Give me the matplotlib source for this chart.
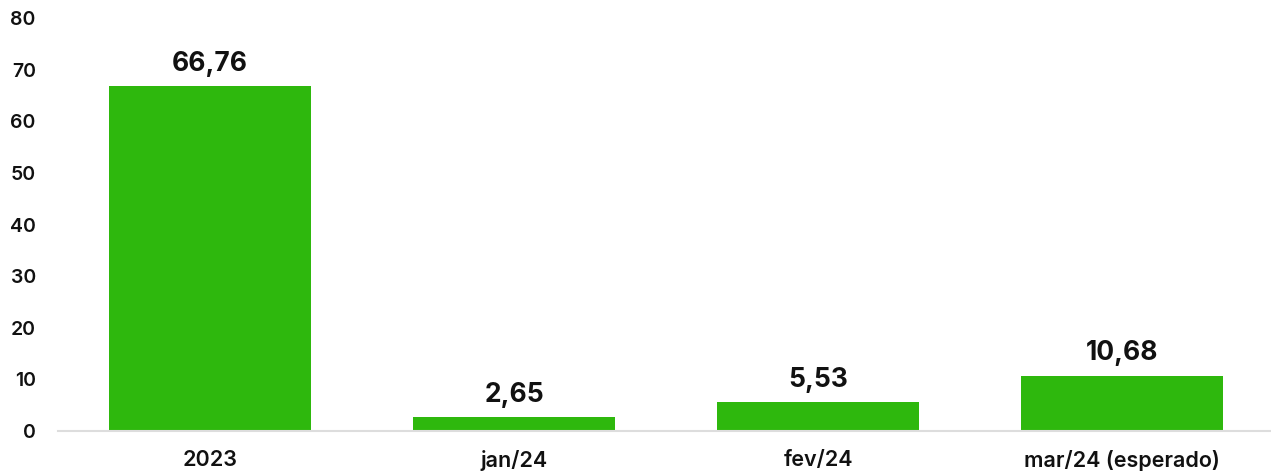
import matplotlib.pyplot as plt

categories = ["2023", "jan/24", "fev/24", "mar/24 (esperado)"]
values = [66.76, 2.65, 5.53, 10.68]
value_labels = ["66,76", "2,65", "5,53", "10,68"]
yticks = [0, 10, 20, 30, 40, 50, 60, 70, 80]

plt.rcParams['font.family'] = ['Inter', 'DejaVu Sans']

fig = plt.figure(figsize=(12.71, 4.73), dpi=100)
ax = fig.add_axes([58 / 1271, 1 - 431 / 473, 1 - 58 / 1271, (431 - 18) / 473])

x = range(len(categories))
ax.bar(x, values, width=0.667, color='#2EB80D', zorder=2)

for xi, v, lab in zip(x, values, value_labels):
    ax.annotate(lab, (xi, v), xytext=(0, 7), textcoords='offset points',
                ha='center', va='bottom', fontsize=19, fontweight='bold', color='#111111')

ax.set_xlim(-0.5, 3.49)
ax.set_ylim(0, 80)
ax.set_yticks(yticks)
ax.set_xticks(list(x))
ax.set_xticklabels(categories)

ax.tick_params(axis='y', length=0, pad=16, labelsize=14, labelcolor='#111111')
ax.tick_params(axis='x', length=0, pad=14, labelsize=15.5, labelcolor='#111111')
for lab in ax.get_yticklabels() + ax.get_xticklabels():
    lab.set_fontweight('semibold')

for side in ['top', 'right', 'left']:
    ax.spines[side].set_visible(False)
ax.spines['bottom'].set_color('#dddddd')
ax.spines['bottom'].set_linewidth(1.5)

fig.savefig('out.png', dpi=100)
